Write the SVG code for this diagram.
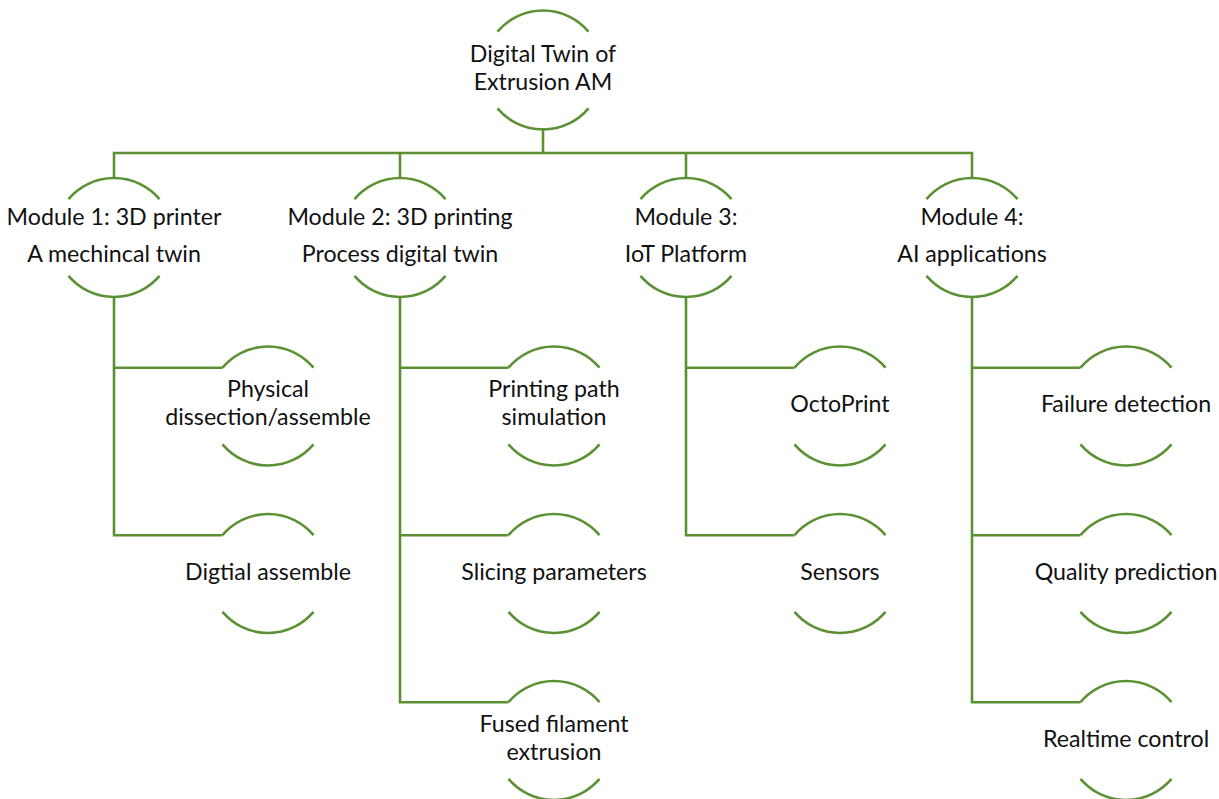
<svg xmlns="http://www.w3.org/2000/svg" width="1219" height="799" viewBox="0 0 1219 799">
  <style>
    .arc { fill: none; stroke: #5B9133; stroke-width: 2.6; }
    .link { fill: none; stroke: #5B9133; stroke-width: 2.6; stroke-linejoin: miter; }
    .lbl { font-family: "Lato", "Liberation Sans", sans-serif; font-size: 23.2px; fill: #111; text-anchor: middle; }
  </style>
  <defs>
    <!-- upper and lower caps of a node ring (r = 59.5), centred on the origin -->
    <path id="cap" class="arc" d="M -45.5 -38.3 A 59.5 59.5 0 0 1 45.5 -38.3"/>
    <path id="cup" class="arc" d="M -45.5 38.3 A 59.5 59.5 0 0 0 45.5 38.3"/>
  </defs>

  <!-- connectors -->
  <g id="connectors" class="link">
    <path d="M543 128 V153"/>
    <path d="M114 178 V153 H972 V178"/>
    <path d="M400 153 V178"/>
    <path d="M686 153 V178"/>
    <!-- module 1 branch -->
    <path d="M114 297 V535.2 H222.5"/>
    <path d="M114 367.7 H222.5"/>
    <!-- module 2 branch -->
    <path d="M400 297 V702.2 H508.5"/>
    <path d="M400 367.7 H508.5"/>
    <path d="M400 535.2 H508.5"/>
    <!-- module 3 branch -->
    <path d="M686 297 V535.2 H794.5"/>
    <path d="M686 367.7 H794.5"/>
    <!-- module 4 branch -->
    <path d="M972 297 V702.2 H1080.5"/>
    <path d="M972 367.7 H1080.5"/>
    <path d="M972 535.2 H1080.5"/>
  </g>

  <g id="root">
    <use href="#cap" x="543" y="70"/><use href="#cup" x="543" y="70"/>
    <text class="lbl" x="543" y="62">Digital Twin of</text>
    <text class="lbl" x="543" y="90">Extrusion AM</text>
  </g>

  <g id="module1">
    <use href="#cap" x="114" y="237.5"/><use href="#cup" x="114" y="237.5"/>
    <text class="lbl" x="114" y="225">Module 1: 3D printer</text>
    <text class="lbl" x="114" y="262">A mechincal twin</text>
  </g>
  <g id="module2">
    <use href="#cap" x="400" y="237.5"/><use href="#cup" x="400" y="237.5"/>
    <text class="lbl" x="400" y="225">Module 2: 3D printing</text>
    <text class="lbl" x="400" y="262">Process digital twin</text>
  </g>
  <g id="module3">
    <use href="#cap" x="686" y="237.5"/><use href="#cup" x="686" y="237.5"/>
    <text class="lbl" x="686" y="225">Module 3:</text>
    <text class="lbl" x="686" y="262">IoT Platform</text>
  </g>
  <g id="module4">
    <use href="#cap" x="972" y="237.5"/><use href="#cup" x="972" y="237.5"/>
    <text class="lbl" x="972" y="225">Module 4:</text>
    <text class="lbl" x="972" y="262">AI applications</text>
  </g>

  <g id="physical-dissection">
    <use href="#cap" x="268" y="406"/><use href="#cup" x="268" y="406"/>
    <text class="lbl" x="268" y="397">Physical</text>
    <text class="lbl" x="268" y="425">dissection/assemble</text>
  </g>
  <g id="digital-assemble">
    <use href="#cap" x="268" y="573.5"/><use href="#cup" x="268" y="573.5"/>
    <text class="lbl" x="268" y="580">Digtial assemble</text>
  </g>

  <g id="printing-path">
    <use href="#cap" x="554" y="406"/><use href="#cup" x="554" y="406"/>
    <text class="lbl" x="554" y="397">Printing path</text>
    <text class="lbl" x="554" y="425">simulation</text>
  </g>
  <g id="slicing">
    <use href="#cap" x="554" y="573.5"/><use href="#cup" x="554" y="573.5"/>
    <text class="lbl" x="554" y="580">Slicing parameters</text>
  </g>
  <g id="fused-filament">
    <use href="#cap" x="554" y="740.5"/><use href="#cup" x="554" y="740.5"/>
    <text class="lbl" x="554" y="732">Fused filament</text>
    <text class="lbl" x="554" y="760">extrusion</text>
  </g>

  <g id="octoprint">
    <use href="#cap" x="840" y="406"/><use href="#cup" x="840" y="406"/>
    <text class="lbl" x="840" y="412">OctoPrint</text>
  </g>
  <g id="sensors">
    <use href="#cap" x="840" y="573.5"/><use href="#cup" x="840" y="573.5"/>
    <text class="lbl" x="840" y="580">Sensors</text>
  </g>

  <g id="failure-detection">
    <use href="#cap" x="1126" y="406"/><use href="#cup" x="1126" y="406"/>
    <text class="lbl" x="1126" y="412">Failure detection</text>
  </g>
  <g id="quality-prediction">
    <use href="#cap" x="1126" y="573.5"/><use href="#cup" x="1126" y="573.5"/>
    <text class="lbl" x="1126" y="580">Quality prediction</text>
  </g>
  <g id="realtime-control">
    <use href="#cap" x="1126" y="740.5"/><use href="#cup" x="1126" y="740.5"/>
    <text class="lbl" x="1126" y="747">Realtime control</text>
  </g>
</svg>
